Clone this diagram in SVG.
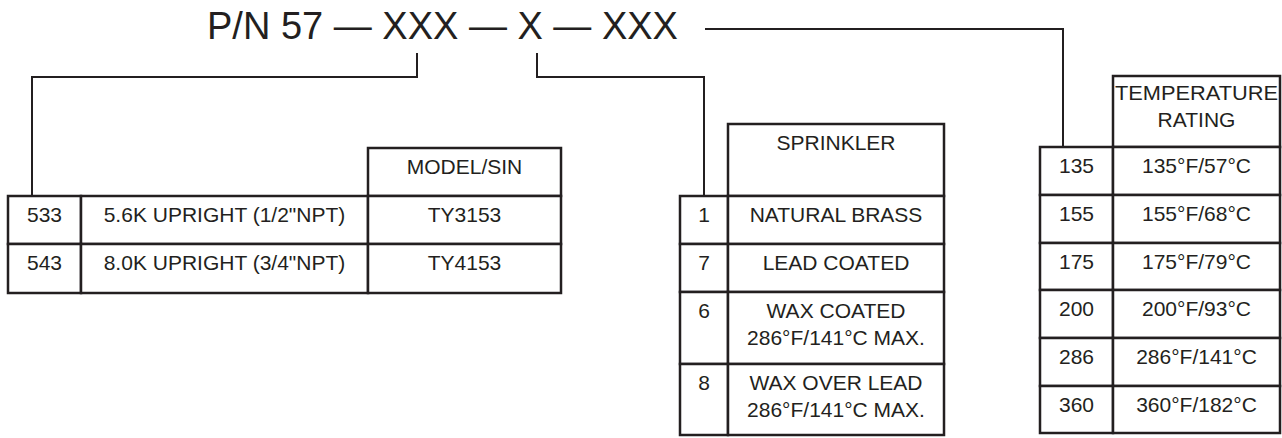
<svg xmlns="http://www.w3.org/2000/svg" width="1282" height="438" viewBox="0 0 1282 438">
<style>
text{font-family:"Liberation Sans",Arial,sans-serif;fill:#231f20}
.t{font-size:21px;text-anchor:middle}
.title{font-size:38px}
.cell{fill:#fff;stroke:#231f20;stroke-width:2.5}
.conn{fill:none;stroke:#231f20;stroke-width:2}
</style>
<rect width="1282" height="438" fill="#fff"/>
<g id="title"><text class="title" x="207" y="39">P/N 57 — XXX — X — XXX</text></g>
<g id="connectors">
<path class="conn" d="M417,53 V77 H32 V196"/>
<path class="conn" d="M537,53 V77 H704 V196"/>
<path class="conn" d="M705,29 H1063 V147"/>
</g>
<g id="model-table">
<rect class="cell" x="368" y="148" width="193" height="48"/>
<rect class="cell" x="8" y="196" width="73" height="48"/>
<rect class="cell" x="81" y="196" width="287" height="48"/>
<rect class="cell" x="368" y="196" width="193" height="48"/>
<rect class="cell" x="8" y="244" width="73" height="49"/>
<rect class="cell" x="81" y="244" width="287" height="49"/>
<rect class="cell" x="368" y="244" width="193" height="49"/>
<text class="t" x="464.5" y="174">MODEL/SIN</text>
<text class="t" x="44.5" y="222">533</text>
<text class="t" x="224.5" y="222">5.6K UPRIGHT (1/2"NPT)</text>
<text class="t" x="464.5" y="222">TY3153</text>
<text class="t" x="44.5" y="270">543</text>
<text class="t" x="224.5" y="270">8.0K UPRIGHT (3/4"NPT)</text>
<text class="t" x="464.5" y="270">TY4153</text>
</g>
<g id="sprinkler-table">
<rect class="cell" x="728" y="124" width="216" height="72"/>
<rect class="cell" x="680" y="196" width="48" height="48"/>
<rect class="cell" x="728" y="196" width="216" height="48"/>
<rect class="cell" x="680" y="244" width="48" height="48"/>
<rect class="cell" x="728" y="244" width="216" height="48"/>
<rect class="cell" x="680" y="292" width="48" height="72"/>
<rect class="cell" x="728" y="292" width="216" height="72"/>
<rect class="cell" x="680" y="364" width="48" height="71"/>
<rect class="cell" x="728" y="364" width="216" height="71"/>
<text class="t" x="836" y="150">SPRINKLER</text>
<text class="t" x="704" y="222">1</text>
<text class="t" x="836" y="222">NATURAL BRASS</text>
<text class="t" x="704" y="270">7</text>
<text class="t" x="836" y="270">LEAD COATED</text>
<text class="t" x="704" y="318">6</text>
<text class="t" x="836" y="318">WAX COATED</text>
<text class="t" x="836" y="345">286°F/141°C MAX.</text>
<text class="t" x="704" y="390">8</text>
<text class="t" x="836" y="390">WAX OVER LEAD</text>
<text class="t" x="836" y="417">286°F/141°C MAX.</text>
</g>
<g id="temperature-table">
<rect class="cell" x="1113" y="76" width="167" height="71"/>
<rect class="cell" x="1040" y="147" width="73" height="48"/>
<rect class="cell" x="1113" y="147" width="167" height="48"/>
<rect class="cell" x="1040" y="195" width="73" height="48"/>
<rect class="cell" x="1113" y="195" width="167" height="48"/>
<rect class="cell" x="1040" y="243" width="73" height="47"/>
<rect class="cell" x="1113" y="243" width="167" height="47"/>
<rect class="cell" x="1040" y="290" width="73" height="48"/>
<rect class="cell" x="1113" y="290" width="167" height="48"/>
<rect class="cell" x="1040" y="338" width="73" height="48"/>
<rect class="cell" x="1113" y="338" width="167" height="48"/>
<rect class="cell" x="1040" y="386" width="73" height="47"/>
<rect class="cell" x="1113" y="386" width="167" height="47"/>
<text class="t" x="1196.5" y="100" textLength="163" lengthAdjust="spacingAndGlyphs">TEMPERATURE</text>
<text class="t" x="1196.5" y="127">RATING</text>
<text class="t" x="1076.5" y="173">135</text>
<text class="t" x="1196.5" y="173">135°F/57°C</text>
<text class="t" x="1076.5" y="221">155</text>
<text class="t" x="1196.5" y="221">155°F/68°C</text>
<text class="t" x="1076.5" y="269">175</text>
<text class="t" x="1196.5" y="269">175°F/79°C</text>
<text class="t" x="1076.5" y="316">200</text>
<text class="t" x="1196.5" y="316">200°F/93°C</text>
<text class="t" x="1076.5" y="364">286</text>
<text class="t" x="1196.5" y="364">286°F/141°C</text>
<text class="t" x="1076.5" y="412">360</text>
<text class="t" x="1196.5" y="412">360°F/182°C</text>
</g>
</svg>
